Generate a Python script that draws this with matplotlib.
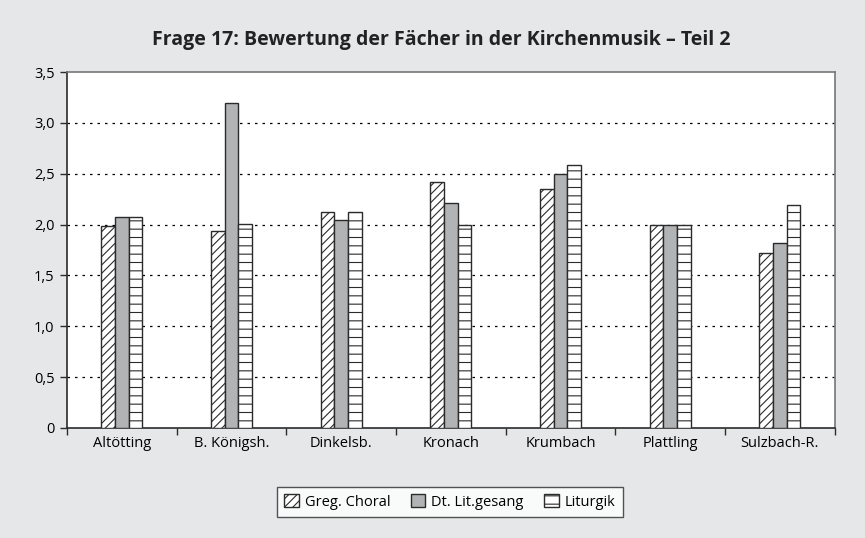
import numpy as np
import matplotlib
matplotlib.use("Agg")
import matplotlib.pyplot as plt
from matplotlib.ticker import FuncFormatter

plt.rcParams["font.family"] = ["Open Sans", "DejaVu Sans"]
plt.rcParams["hatch.linewidth"] = 0.8

orte = ["Altötting", "B. Königsh.", "Dinkelsb.", "Kronach", "Krumbach", "Plattling", "Sulzbach-R."]
greg_choral = [1.99, 1.94, 2.12, 2.42, 2.35, 2.00, 1.72]
dt_litgesang = [2.07, 3.20, 2.05, 2.21, 2.50, 2.00, 1.82]
liturgik = [2.07, 2.01, 2.12, 2.00, 2.59, 2.00, 2.19]
series = ["Greg. Choral", "Dt. Lit.gesang", "Liturgik"]

bg = "#e6e7e8"
edge = "#2b2b2b"
fig = plt.figure(figsize=(8.65, 5.38), dpi=100, facecolor=bg)
ax = fig.add_axes([0.0775, 0.2045, 0.8875, 0.6615])
ax.set_facecolor("white")

x = np.arange(len(orte))
w = 0.125
styles = [dict(facecolor="white", hatch="////"),
          dict(facecolor="#b2b3b4", hatch=None),
          dict(facecolor="white", hatch="--")]
for i, (vals, st) in enumerate(zip([greg_choral, dt_litgesang, liturgik], styles)):
    ax.bar(x + (i - 1) * w, vals, w, edgecolor=edge, linewidth=1.0, label=series[i],
           zorder=3, **st)

ax.set_xlim(-0.5, len(orte) - 0.5)
ax.set_ylim(0, 3.5)
ax.set_yticks(np.arange(0, 3.51, 0.5))
ax.yaxis.set_major_formatter(FuncFormatter(lambda v, p: "0" if v == 0 else f"{v:.1f}".replace(".", ",")))
ax.set_xticks(x)
ax.set_xticklabels(orte, fontsize=10.5)
ax.set_xticks(np.arange(-0.5, len(orte)), minor=True)
ax.tick_params(axis="x", which="major", length=0, pad=6)
ax.tick_params(axis="x", which="minor", length=5, width=1, color=edge, direction="out")
ax.tick_params(axis="y", length=5, width=1, color=edge, labelsize=10.5, pad=4)
for v in np.arange(0.5, 3.01, 0.5):
    ax.axhline(v, color="black", linestyle=(0, (2, 4)), linewidth=0.9, zorder=1)

for s in ["left", "bottom"]:
    ax.spines[s].set_color(edge)
    ax.spines[s].set_linewidth(1.2)
for s in ["top", "right"]:
    ax.spines[s].set_color("#777777")
    ax.spines[s].set_linewidth(1.2)

fig.text(0.51, 0.925, "Frage 17: Bewertung der Fächer in der Kirchenmusik – Teil 2",
         ha="center", va="center", fontsize=14, fontweight="bold", color="#222222")

leg = fig.legend(loc="center", bbox_to_anchor=(0.52, 0.067), ncol=3, fontsize=10.5,
                 frameon=True, fancybox=False, edgecolor=edge, facecolor="white",
                 handlelength=1.0, handleheight=1.0, handletextpad=0.4, columnspacing=1.4,
                 borderpad=0.5)
leg.get_frame().set_linewidth(1.0)

fig.savefig("out.png", dpi=100, facecolor=bg)
